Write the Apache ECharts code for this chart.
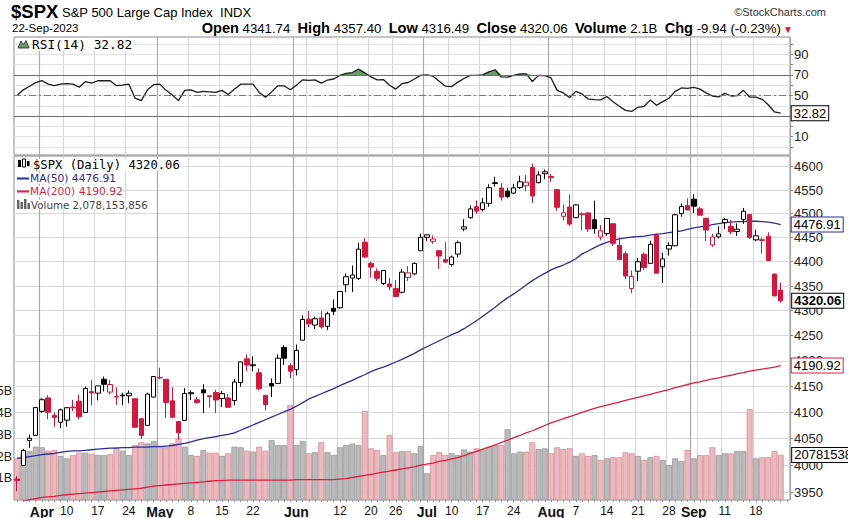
<!DOCTYPE html>
<html><head><meta charset="utf-8">
<script src="https://cdn.jsdelivr.net/npm/echarts@6/dist/echarts.min.js"></script>
<style>html,body{margin:0;padding:0;background:#fff}#c{width:848px;height:518px}</style>
</head><body><div id="c"></div>
<script>
const dates = ['2023-03-28','2023-03-29','2023-03-30','2023-03-31','2023-04-03','2023-04-04','2023-04-05','2023-04-06','2023-04-10','2023-04-11','2023-04-12','2023-04-13','2023-04-14','2023-04-17','2023-04-18','2023-04-19','2023-04-20','2023-04-21','2023-04-24','2023-04-25','2023-04-26','2023-04-27','2023-04-28','2023-05-01','2023-05-02','2023-05-03','2023-05-04','2023-05-05','2023-05-08','2023-05-09','2023-05-10','2023-05-11','2023-05-12','2023-05-15','2023-05-16','2023-05-17','2023-05-18','2023-05-19','2023-05-22','2023-05-23','2023-05-24','2023-05-25','2023-05-26','2023-05-30','2023-05-31','2023-06-01','2023-06-02','2023-06-05','2023-06-06','2023-06-07','2023-06-08','2023-06-09','2023-06-12','2023-06-13','2023-06-14','2023-06-15','2023-06-16','2023-06-20','2023-06-21','2023-06-22','2023-06-23','2023-06-26','2023-06-27','2023-06-28','2023-06-29','2023-06-30','2023-07-03','2023-07-05','2023-07-06','2023-07-07','2023-07-10','2023-07-11','2023-07-12','2023-07-13','2023-07-14','2023-07-17','2023-07-18','2023-07-19','2023-07-20','2023-07-21','2023-07-24','2023-07-25','2023-07-26','2023-07-27','2023-07-28','2023-07-31','2023-08-01','2023-08-02','2023-08-03','2023-08-04','2023-08-07','2023-08-08','2023-08-09','2023-08-10','2023-08-11','2023-08-14','2023-08-15','2023-08-16','2023-08-17','2023-08-18','2023-08-21','2023-08-22','2023-08-23','2023-08-24','2023-08-25','2023-08-28','2023-08-29','2023-08-30','2023-08-31','2023-09-01','2023-09-05','2023-09-06','2023-09-07','2023-09-08','2023-09-11','2023-09-12','2023-09-13','2023-09-14','2023-09-15','2023-09-18','2023-09-19','2023-09-20','2023-09-21','2023-09-22'];

const open = [3974.1,3999.5,4046.7,4056.2,4102.2,4128.0,4094.5,4081.2,4085.2,4110.3,
4121.7,4100.0,4140.1,4137.2,4164.3,4139.3,4130.5,4132.1,4132.1,4126.4,
4087.8,4075.3,4129.6,4166.8,4164.1,4122.3,4082.6,4084.7,4136.0,4124.3,
4143.7,4132.2,4138.5,4126.7,4127.9,4122.9,4157.7,4204.2,4190.8,4176.8,
4133.0,4155.7,4156.2,4226.7,4190.7,4183.0,4241.0,4283.0,4271.3,4285.5,
4268.7,4304.9,4306.0,4352.6,4366.3,4365.3,4440.0,4396.1,4380.0,4355.4,
4354.2,4344.8,4337.4,4367.5,4374.9,4422.4,4450.5,4442.0,4422.6,4404.5,
4394.2,4415.6,4467.7,4491.5,4514.6,4508.9,4521.8,4563.9,4554.4,4547.4,
4543.4,4555.2,4559.0,4598.3,4565.8,4584.8,4578.8,4550.9,4494.3,4514.0,
4491.6,4498.0,4501.6,4487.2,4450.7,4458.1,4478.9,4433.8,4416.3,4344.9,
4380.3,4415.3,4396.4,4455.2,4389.4,4426.0,4432.8,4500.3,4517.0,4530.6,
4510.1,4490.4,4434.6,4451.3,4481.0,4473.3,4462.6,4487.8,4498.0,4445.1,
4445.4,4452.8,4374.4,4341.74];
const high = [3980,4030.6,4057.9,4110.8,4127.7,4133.1,4099.7,4107.3,4109.5,4124.3,
4134.4,4150.3,4163.2,4151.7,4169.5,4162.6,4148.6,4138.0,4142.4,4126.4,
4089.7,4138.2,4170.1,4186.9,4164.1,4148.3,4082.6,4147.0,4142.3,4130.4,
4154.3,4132.8,4143.7,4141.3,4135.5,4164.7,4198.6,4212.9,4209.2,4185.7,
4133.0,4165.7,4212.9,4231.1,4195.4,4232.4,4290.7,4299.3,4288.3,4299.2,
4298.0,4322.6,4340.1,4375.4,4391.8,4439.2,4448.5,4400.2,4386.2,4382.3,
4366.6,4362.1,4384.4,4390.4,4398.4,4458.5,4456.5,4454.1,4422.6,4440.4,
4412.6,4443.6,4488.3,4517.4,4527.8,4532.9,4562.3,4578.4,4564.7,4555.0,
4563.4,4580.6,4582.5,4607.1,4590.2,4594.2,4584.6,4550.9,4519.5,4540.3,
4519.8,4503.3,4502.4,4527.4,4476.2,4490.3,4478.9,4450.0,4421.2,4381.8,
4407.6,4418.6,4443.2,4458.3,4418.5,4440.0,4500.1,4521.7,4532.3,4541.3,
4514.3,4490.4,4457.8,4473.5,4490.8,4487.1,4479.4,4512.0,4498.0,4466.4,
4449.9,4461.0,4375.7,4357.40];
const low = [3951.5,3999.5,4032.6,4056.2,4098.8,4086.9,4072.6,4069.8,4072.6,4102.6,
4086.9,4099.4,4113.2,4123.2,4140.4,4134.5,4114.6,4113.9,4117.8,4071.4,
4049.4,4075.3,4127.8,4164.1,4089.7,4088.9,4048.3,4084.7,4123.8,4116.6,
4098.9,4109.3,4099.1,4110.3,4109.9,4113.6,4149.6,4180.2,4179.7,4142.5,
4104.0,4129.7,4156.2,4192.2,4166.2,4171.6,4241.0,4266.8,4263.1,4264.0,
4261.1,4291.7,4304.4,4337.5,4337.9,4362.6,4407.4,4367.2,4360.1,4351.8,
4341.3,4328.1,4335.0,4360.2,4372.0,4422.4,4442.3,4436.6,4385.1,4397.4,
4389.9,4408.5,4463.2,4489.4,4499.6,4504.9,4514.6,4557.5,4527.6,4532.3,
4541.3,4552.4,4547.6,4522.8,4564.0,4573.1,4567.5,4505.8,4485.5,4474.6,
4491.2,4464.4,4461.3,4457.9,4444.0,4453.4,4432.2,4403.6,4364.8,4335.3,
4360.3,4382.8,4396.4,4375.6,4356.3,4412.4,4431.7,4493.6,4507.4,4501.4,
4496.0,4442.4,4430.5,4448.4,4467.9,4456.8,4453.5,4478.7,4447.2,4442.1,
4416.6,4401.4,4329.2,4316.49];
const close = [3971.3,4027.8,4050.8,4109.3,4124.5,4100.6,4090.4,4105.0,4109.1,4108.9,
4091.9,4146.2,4137.6,4151.3,4154.5,4154.0,4129.8,4133.5,4137.0,4071.6,
4056.0,4135.4,4169.5,4167.9,4119.2,4090.8,4061.2,4136.3,4138.1,4119.2,
4137.6,4130.6,4124.1,4136.3,4109.9,4158.8,4198.1,4192.0,4192.6,4145.6,
4115.2,4151.3,4205.45,4205.5,4179.8,4221.0,4282.4,4273.8,4283.9,4267.5,
4293.9,4298.9,4338.9,4369.0,4372.6,4425.8,4409.6,4388.7,4365.7,4381.9,
4348.3,4328.8,4378.4,4376.9,4396.4,4450.4,4455.6,4446.8,4411.6,4399.0,
4409.5,4439.3,4472.2,4510.0,4505.4,4522.8,4555.0,4565.7,4534.9,4536.3,
4554.6,4567.5,4566.75,4537.4,4582.2,4589.0,4576.7,4513.4,4501.9,4478.0,
4518.4,4499.4,4467.7,4468.8,4464.05,4489.7,4437.9,4404.3,4370.4,4369.7,
4399.8,4387.6,4436.0,4376.3,4405.7,4433.3,4497.6,4514.9,4507.7,4515.8,
4496.8,4465.5,4451.1,4457.5,4487.5,4461.9,4467.4,4505.1,4450.3,4453.5,
4443.95,4402.2,4330.0,4320.06];
const prevClose = 3977.53;

const volumeB = [1.92,2.15,2.25,2.46,2.43,2.27,2.3,2.03,1.92,2.07,
2.18,2.18,2.12,2.07,2.07,2.12,2.43,2.27,2.07,2.53,
2.66,2.61,2.72,2.49,2.43,2.61,2.84,2.46,2.07,2.03,
2.3,2.18,2.18,2.03,2.15,2.46,2.43,2.27,2.23,2.46,
2.27,2.76,2.53,2.53,4.38,2.53,2.72,2.15,2.2,2.66,
2.2,2.07,2.43,2.53,2.6,2.53,4.1,2.38,2.3,2.07,
3.0,2.2,2.26,2.26,2.15,2.49,1.23,2.07,2.2,2.07,
2.15,2.07,2.33,2.23,2.38,2.33,2.46,2.53,2.53,3.26,
2.15,2.23,2.23,2.66,2.35,2.38,2.15,2.43,2.35,2.38,
2.03,2.15,2.03,2.07,1.84,1.92,1.97,1.97,2.2,2.15,
2.03,1.84,1.97,2.03,1.84,1.61,1.92,1.8,2.3,1.92,
2.07,2.07,2.43,2.07,2.15,2.15,2.26,2.26,4.19,1.92,
1.97,1.97,2.26,2.078153856];

const ma50 = [4013,4014,4016,4018,4020,4021,4022,4024,4026,4027,
4027,4028,4029,4030,4031,4032,4032,4033,4033,4034,
4034,4034,4035,4035,4036,4037,4039,4041,4044,4047,
4050,4052,4054,4056,4058,4061,4066,4071,4076,4081,
4086,4091,4096,4101,4106,4112,4119,4126,4131,4136,
4141,4146,4152,4157,4162,4168,4173,4179,4184,4188,
4193,4198,4203,4209,4215,4222,4228,4234,4240,4246,
4252,4257,4264,4272,4280,4289,4298,4307,4317,4326,
4334,4343,4352,4361,4369,4376,4383,4388,4393,4399,
4406,4416,4422,4429,4435,4440,4444,4447,4449,4451,
4452,4453,4455,4457,4458,4460,4462,4464,4467,4470,
4472,4474,4477,4479,4481,4482,4483,4483,4484,4484,
4483,4482,4480,4476.91];

const ma200 = [3930,3933,3936,3938,3940,3941,3942,3944,3945,3946,
3947,3948,3949,3950,3951,3952,3953,3954,3955,3956,
3957,3959,3961,3962,3963,3964,3965,3966,3967,3968,
3969,3970,3971,3971,3972,3972,3972,3972,3972,3972,
3972,3972,3972,3972,3972,3973,3973,3973,3973,3973,
3973,3973,3974,3975,3977,3979,3981,3983,3985,3987,
3989,3991,3993,3995,3997,4000,4002,4004,4007,4009,
4012,4014,4018,4022,4026,4030,4034,4038,4043,4047,
4052,4056,4061,4065,4070,4075,4080,4084,4088,4092,
4096,4100,4104,4108,4111,4114,4117,4120,4123,4126,
4129,4132,4135,4138,4141,4144,4148,4151,4154,4157,
4159,4162,4165,4167,4170,4172,4175,4177,4180,4182,
4184,4186,4188,4190.92];

const rsi = [50,55.5,59,62.5,64.5,61,59.5,61,61.5,61,
58,63.5,62,64.3,64.5,64.3,59.5,60,61,47.5,
45,55.5,60.5,61,55,50.5,45,55,55.5,53,
54,53.5,53,55,51,56,61,61,61,53,
48.4,53.5,59.4,59.4,55.5,60,65.2,64.6,65.2,62,
65,66,69.5,71.5,72.3,75.6,72,68,65.2,65.5,
60,56.2,61.5,62.6,66,69.5,70,68.8,63.8,59,
58.7,63,66.5,69.5,69.5,70,73,75,68,67.8,
69.5,71,71,63.6,69.5,69.2,67,55,52.5,48,
54,51.5,46.5,46,45.8,49,44,39.5,35.5,34.5,
38.5,39.5,45.5,40.5,44,47.3,54,57.3,57,57.8,
56.2,52.5,49.5,48.6,52,49.5,50,55,48.5,48.4,
46.3,41,34,32.82];

const priceTicks = [3950,4000,4050,4100,4150,4200,4250,4300,4350,4400,4450,4500,4550,4600];
const rsiLabelTicks = [10,30,50,70,90];
const rsiGridTicks = [0,10,20,30,40,50,60,70,80,90,100];
const volLabelTicks = [1,2,3,4,5];
const monthNames = ['Jan','Feb','Mar','Apr','May','Jun','Jul','Aug','Sep','Oct','Nov','Dec'];

// ---------- build ----------
const N = dates.length;
const cats = dates.concat(['']);
const dt = dates.map(s => new Date(s + 'T00:00:00Z'));
const isMonthStart = i => i > 0 && i < N && dt[i].getUTCMonth() !== dt[i-1].getUTCMonth();
const isWeekStart = i => i > 0 && i < N && dt[i].getUTCDay() < dt[i-1].getUTCDay();
const monthNear = (i, before, after) => { for (let k = -before; k <= after; k++) { if (k !== 0 && isMonthStart(i + k)) return true; } return false; };
const weekLine = i => isWeekStart(i) && !isMonthStart(i) && !monthNear(i, 0, 2);
const labelIdx = i => isMonthStart(i) || (isWeekStart(i) && !monthNear(i, 2, 2));

const RED = '#d8163d', BLACK = '#000';
const blackData = [], redData = [], volData = [];
for (let i = 0; i < N; i++) {
  const d = [open[i], close[i], low[i], high[i]];
  const pc = i === 0 ? prevClose : close[i-1];
  const up = close[i] >= pc;
  blackData.push(up ? d : '-');
  redData.push(up ? '-' : d);
  volData.push({ value: volumeB[i], itemStyle: up
    ? { color: '#bababa', borderColor: '#9c9c9c', borderWidth: 0.8 }
    : { color: '#ebb9bf', borderColor: '#d88f9b', borderWidth: 0.8 } });
}
const rsiBase = rsi.map(() => 70);
const rsiOver = rsi.map(v => Math.max(0, v - 70));

const AX = 'Liberation Sans, Arial, sans-serif';
const boxLabel = (txt, border, bold) => ({
  show: true, formatter: txt, color: '#000', fontSize: 13, fontFamily: AX,
  fontWeight: bold ? 'bold' : 'normal', backgroundColor: '#fff',
  borderColor: border, borderWidth: 1, padding: [1, 2, 0, 2]
});

const grids = [
  { left: 14, right: 58, top: 37, height: 118, show: true, borderColor: '#8a8a8a', borderWidth: 1, containLabel: false, outerBoundsMode: 'none' },
  { left: 14, right: 58, top: 156, height: 344, show: true, borderColor: '#8a8a8a', borderWidth: 1, containLabel: false, outerBoundsMode: 'none' }
];
const xBase = (g) => ({ type: 'category', gridIndex: g, data: cats, boundaryGap: true,
  axisLine: { show: false }, axisTick: { show: false }, axisLabel: { show: false } });

const xAxes = [
  Object.assign(xBase(0), { splitLine: { show: true, interval: (i) => weekLine(i), lineStyle: { color: '#d6d6d6', width: 1 } } }),
  Object.assign(xBase(0), { position: 'top', splitLine: { show: true, interval: (i) => isMonthStart(i), lineStyle: { color: '#a9a9a9', width: 1.2 } } }),
  Object.assign(xBase(1), {
    axisTick: { show: true, interval: 0, alignWithLabel: true, length: 2, lineStyle: { color: '#9a9a9a' } },
    axisLabel: { show: true, interval: (i) => labelIdx(i), margin: 5, color: '#111', fontSize: 12, fontFamily: AX,
      formatter: (v, i) => { if (!v) return ''; const d = new Date(v + 'T00:00:00Z');
        return isMonthStart(i) ? '{m|' + monthNames[d.getUTCMonth()] + '}' : String(d.getUTCDate()); },
      rich: { m: { fontWeight: 'bold', fontSize: 14, fontFamily: AX, color: '#111' } } },
    splitLine: { show: true, interval: (i) => weekLine(i), lineStyle: { color: '#d6d6d6', width: 1 } } }),
  Object.assign(xBase(1), { position: 'top', splitLine: { show: true, interval: (i) => isMonthStart(i), lineStyle: { color: '#a9a9a9', width: 1.2 } } })
];

const yAxes = [
  { type: 'value', gridIndex: 0, position: 'right', min: -7.8, max: 106.8,
    axisLine: { show: false },
    axisTick: { show: true, customValues: rsiGridTicks, length: 3, lineStyle: { color: '#888' } },
    axisLabel: { customValues: rsiLabelTicks, margin: 4, color: '#222', fontSize: 13, fontFamily: AX },
    splitLine: { show: true, lineStyle: { color: '#e2e2e2' } } },
  { type: 'log', logBase: 10, gridIndex: 1, position: 'right', min: 3935.3, max: 4623.1,
    axisLine: { show: false },
    axisTick: { show: true, customValues: priceTicks, length: 3, lineStyle: { color: '#888' } },
    axisLabel: { customValues: priceTicks, margin: 4, color: '#222', fontSize: 13, fontFamily: AX, formatter: v => String(Math.round(v)) },
    splitLine: { show: true, lineStyle: { color: '#dadada' } } },
  { type: 'value', gridIndex: 1, position: 'left', min: 0, max: 15.85, interval: 1,
    axisLine: { show: false }, axisTick: { show: false }, splitLine: { show: false },
    axisLabel: { margin: 2, color: '#222', fontSize: 12.5, fontFamily: AX,
      formatter: v => (volLabelTicks.indexOf(v) >= 0 ? v + 'B' : '') } }
];

const series = [
  { type: 'line', name: 'rsiBase', xAxisIndex: 0, yAxisIndex: 0, data: rsiBase, stack: 'ob',
    symbol: 'none', lineStyle: { opacity: 0 }, silent: true, z: 1 },
  { type: 'line', name: 'rsiOver', xAxisIndex: 0, yAxisIndex: 0, data: rsiOver, stack: 'ob',
    symbol: 'none', lineStyle: { opacity: 0 }, areaStyle: { color: '#6e9b6e', opacity: 1 }, silent: true, z: 2 },
  { type: 'line', name: 'RSI', xAxisIndex: 0, yAxisIndex: 0, data: rsi, symbol: 'none',
    lineStyle: { color: '#1c1c1c', width: 1.3 }, z: 4,
    markLine: { silent: true, symbol: ['none', 'none'], label: { show: false },
      lineStyle: { color: '#6e6e6e', width: 1, type: 'solid' },
      data: [ { yAxis: 70 }, { yAxis: 30 }, { yAxis: 50, lineStyle: { type: [7, 3, 2, 3], color: '#7a7a7a' } } ] },
    endLabel: Object.assign(boxLabel(rsi[N-1].toFixed(2), '#000', false), { distance: 11 }) },

  { type: 'bar', name: 'Volume', xAxisIndex: 2, yAxisIndex: 2, data: volData, barWidth: 6, z: 1,
    markPoint: { symbol: 'rect', symbolSize: [1, 1], itemStyle: { color: 'rgba(0,0,0,0)' },
      label: Object.assign(boxLabel(String(Math.round(volumeB[N-1] * 1e9)), '#000', false), { position: 'right', distance: 11 }),
      data: [ { coord: [dates[N-1], volumeB[N-1]] } ] } },

  { type: 'line', name: 'MA(200)', xAxisIndex: 2, yAxisIndex: 1, data: ma200, symbol: 'none',
    lineStyle: { color: '#dc1f45', width: 1.3 }, z: 3,
    endLabel: Object.assign(boxLabel(ma200[N-1].toFixed(2), '#dc1f45', false), { distance: 11 }) },
  { type: 'line', name: 'MA(50)', xAxisIndex: 2, yAxisIndex: 1, data: ma50, symbol: 'none',
    lineStyle: { color: '#2c2ca0', width: 1.3 }, z: 3,
    endLabel: Object.assign(boxLabel(ma50[N-1].toFixed(2), '#2c2ca0', false), { distance: 11 }) },

  { type: 'candlestick', name: 'up', xAxisIndex: 2, yAxisIndex: 1, data: blackData, barWidth: 5, z: 5,
    itemStyle: { color: '#fff', color0: BLACK, borderColor: BLACK, borderColor0: BLACK, borderWidth: 1 } },
  { type: 'candlestick', name: 'down', xAxisIndex: 2, yAxisIndex: 1, data: redData, barWidth: 5, z: 5,
    itemStyle: { color: '#fff', color0: RED, borderColor: RED, borderColor0: RED, borderWidth: 1 },
    markPoint: { symbol: 'rect', symbolSize: [1, 1], itemStyle: { color: 'rgba(0,0,0,0)' },
      label: Object.assign(boxLabel(close[N-1].toFixed(2), '#000', true), { position: 'right', distance: 11 }),
      data: [ { coord: [dates[N-1], close[N-1]] } ] } }
];

const T = (text, x, y, font, fill, align, extra) => ({ type: 'text', z: 100,
  style: Object.assign({ text, x, y, font, fill: fill || '#000', textAlign: align || 'left', textVerticalAlign: 'middle',
    align: align || 'left', verticalAlign: 'middle' }, extra || {}) });

const MONO = 'DejaVu Sans Mono, monospace';
const SANS = 'DejaVu Sans, Verdana, sans-serif';
const graphic = [
  T('$SPX', 11, 11.5, 'bold 18.5px ' + AX, '#000'),
  T('S&P 500 Large Cap Index  INDX', 62, 12, '13px ' + AX, '#000'),
  T('\u00A9StockCharts.com', 826, 12, '11px ' + AX, '#333', 'right'),
  T('22-Sep-2023', 12, 28, '11.5px ' + AX, '#000'),
  { type: 'text', z: 100, style: { text: '{b|Open} 4341.74  {b|High} 4357.40  {b|Low} 4316.49  {b|Close} 4320.06  {b|Volume} 2.1B  {b|Chg} -9.94 (-0.23%)',
      x: 781, y: 28, font: '13.2px ' + AX, fill: '#000', textAlign: 'right', align: 'right', textVerticalAlign: 'middle', verticalAlign: 'middle',
      rich: { b: { fontWeight: 'bold', fontSize: 14.6, fontFamily: AX, fill: '#000', color: '#000' } } } },
  T('\u25BC', 783, 29, '10px ' + AX, RED),

  { type: 'polygon', z: 100, shape: { points: [[18,48],[21,41],[23.5,44.5],[26,40.5],[29,48]] }, style: { fill: '#6e9b6e', stroke: '#222', lineWidth: 0.8 } },
  T('RSI(14) 32.82', 32, 44.5, '12.8px ' + MONO, '#000', 'left', { backgroundColor: '#fff' }),

  { type: 'rect', z: 100, shape: { x: 18, y: 160, width: 3, height: 7 }, style: { fill: '#000' } },
  { type: 'rect', z: 100, shape: { x: 22.5, y: 159, width: 3, height: 8 }, style: { fill: '#fff', stroke: '#000', lineWidth: 1 } },
  { type: 'rect', z: 100, shape: { x: 27, y: 161, width: 2.5, height: 5 }, style: { fill: '#000' } },
  T('$SPX (Daily) 4320.06', 33, 165, '12.2px ' + MONO, '#000', 'left', { backgroundColor: '#fff' }),
  { type: 'line', z: 100, shape: { x1: 17, y1: 178.5, x2: 29, y2: 178.5 }, style: { stroke: '#2c2ca0', lineWidth: 2 } },
  T('MA(50) 4476.91', 30, 178.5, '10.7px ' + SANS, '#2c2ca0', 'left', { backgroundColor: '#fff' }),
  { type: 'line', z: 100, shape: { x1: 17, y1: 191.5, x2: 29, y2: 191.5 }, style: { stroke: '#dc1f45', lineWidth: 2 } },
  T('MA(200) 4190.92', 30, 191.5, '10.7px ' + SANS, '#dc1f45', 'left', { backgroundColor: '#fff' }),
  { type: 'rect', z: 100, shape: { x: 17, y: 200, width: 2.5, height: 9 }, style: { fill: '#666' } },
  { type: 'rect', z: 100, shape: { x: 20.5, y: 202, width: 2.5, height: 7 }, style: { fill: '#666' } },
  { type: 'rect', z: 100, shape: { x: 24, y: 199, width: 2.5, height: 10 }, style: { fill: '#666' } },
  { type: 'rect', z: 100, shape: { x: 27.5, y: 203, width: 2.5, height: 6 }, style: { fill: '#666' } },
  T('Volume 2,078,153,856', 31, 204.5, '10.3px ' + SANS, '#444', 'left', { backgroundColor: '#fff' })
];

const chart = echarts.init(document.getElementById('c'), null, { renderer: 'svg', width: 848, height: 518 });
chart.setOption({
  animation: false,
  backgroundColor: '#fff',
  grid: grids,
  xAxis: xAxes,
  yAxis: yAxes,
  series: series,
  graphic: graphic
});
</script>
</body></html>
